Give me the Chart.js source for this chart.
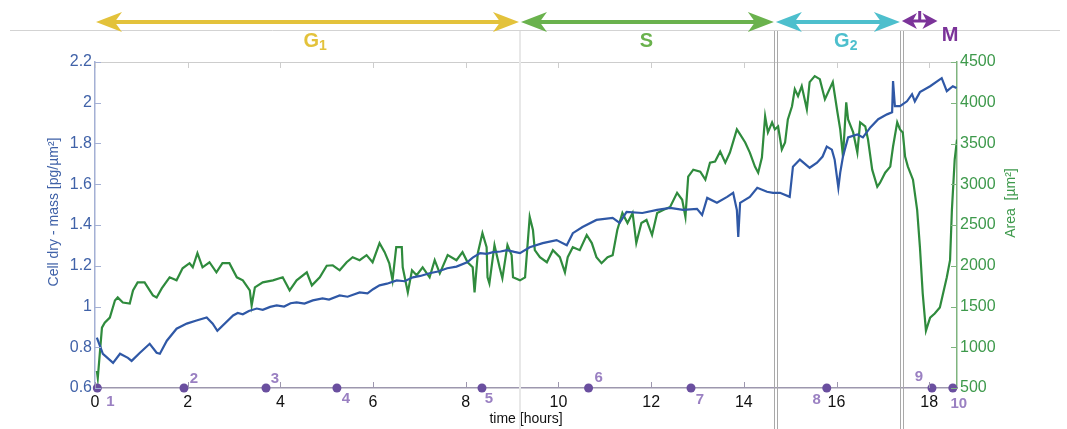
<!DOCTYPE html>
<html>
<head>
<meta charset="utf-8">
<script src="https://cdn.jsdelivr.net/npm/chart.js@4.4.0/dist/chart.umd.min.js"></script>
<style>
  html, body { margin: 0; padding: 0; background: #fff; }
  #wrap { width: 1067px; height: 429px; }
</style>
</head>
<body>
<div id="wrap"><canvas id="chart" width="1067" height="429"></canvas></div>
<script>
/* ── Data ───────────────────────────────────────────────────────── */
const timeTicks = [0, 2, 4, 6, 8, 10, 12, 14, 16, 18];
const massTicks = [0.6, 0.8, 1, 1.2, 1.4, 1.6, 1.8, 2, 2.2];
const areaTicks = [500, 1000, 1500, 2000, 2500, 3000, 3500, 4000, 4500];

/* dry mass, pg/µm² */
const massTime = [
  0.04, 0.17, 0.39, 0.54, 0.71, 0.79, 0.97, 1.18, 1.33, 1.40, 1.55, 1.76, 1.98,
  2.19, 2.41, 2.54, 2.64, 2.98, 3.08, 3.19, 3.32, 3.49, 3.62, 3.78, 3.92, 4.08,
  4.22, 4.35, 4.52, 4.70, 4.91, 5.05, 5.28, 5.45, 5.71, 5.88, 6.00, 6.14, 6.30,
  6.51, 6.68, 6.86, 7.02, 7.22, 7.40, 7.60, 7.80, 8.03, 8.15, 8.31, 8.45, 8.59,
  8.75, 8.89, 9.05, 9.17, 9.38, 9.66, 9.96, 10.18,
  10.31, 10.52, 10.82, 11.17, 11.32, 11.47, 11.81, 12.13, 12.41, 12.69, 12.99,
  13.10, 13.21, 13.42, 13.64, 13.77, 13.85, 13.88, 13.92, 14.13, 14.29, 14.50,
  14.63, 14.78, 14.99, 15.06, 15.21, 15.42, 15.58, 15.70, 15.79, 15.90, 15.96,
  16.04, 16.08, 16.14, 16.25, 16.45, 16.57, 16.73, 16.90, 17.09, 17.20, 17.22,
  17.26, 17.37, 17.52, 17.63, 17.69, 17.80, 18.02, 18.27, 18.38, 18.51, 18.59
];
const mass = [
  0.847, 0.768, 0.723, 0.768, 0.748, 0.733, 0.773, 0.817, 0.773, 0.768, 0.832, 0.891, 0.916,
  0.931, 0.946, 0.916, 0.881, 0.956, 0.968, 0.962, 0.978, 0.990, 0.984, 0.998, 1.005, 1.000,
  1.016, 1.020, 1.014, 1.030, 1.040, 1.034, 1.054, 1.048, 1.069, 1.064, 1.085, 1.104, 1.112,
  1.128, 1.124, 1.143, 1.150, 1.163, 1.172, 1.188, 1.196, 1.217, 1.240, 1.262, 1.258, 1.267,
  1.270, 1.277, 1.268, 1.262, 1.291, 1.311, 1.326, 1.301,
  1.360, 1.390, 1.425, 1.435, 1.410, 1.464, 1.459, 1.474, 1.484, 1.474, 1.479,
  1.449, 1.533, 1.509, 1.538, 1.558, 1.474, 1.341, 1.509, 1.538, 1.583, 1.563,
  1.558, 1.558, 1.538, 1.686, 1.721, 1.681, 1.706, 1.736, 1.785, 1.770, 1.721,
  1.583, 1.657, 1.736, 1.830, 1.844, 1.830, 1.879, 1.919, 1.943, 1.953, 2.106,
  1.983, 1.983, 2.007, 2.042, 2.007, 2.052, 2.081, 2.121, 2.057, 2.081, 2.072
];

/* cell area, µm² */
const areaTime = [
  0.04, 0.06, 0.15, 0.21, 0.32, 0.43, 0.49, 0.60, 0.75, 0.82, 0.92, 1.07, 1.18,
  1.25, 1.33, 1.44, 1.61, 1.76, 1.89, 2.04, 2.11, 2.21, 2.32, 2.47, 2.62, 2.75,
  2.90, 3.06, 3.19, 3.34, 3.38, 3.45, 3.62, 3.84, 4.05, 4.20, 4.35, 4.57, 4.68,
  4.85, 5.00, 5.13, 5.28, 5.43, 5.56, 5.71, 5.86, 5.99, 6.14, 6.25, 6.35, 6.42,
  6.50, 6.62, 6.64, 6.75, 6.84, 6.94, 7.07, 7.22, 7.33, 7.44, 7.61, 7.80, 7.93,
  8.04, 8.15, 8.19, 8.26, 8.36, 8.45, 8.47, 8.51, 8.62, 8.73, 8.79, 8.90, 8.99,
  9.02, 9.17, 9.28, 9.38, 9.45, 9.49, 9.60, 9.75, 9.88, 10.03, 10.14, 10.20,
  10.31, 10.46, 10.61, 10.72, 10.82, 10.93, 11.06, 11.17, 11.27, 11.38, 11.49,
  11.60, 11.68, 11.79, 11.90, 12.02, 12.13, 12.26, 12.41, 12.56, 12.67, 12.74,
  12.80, 12.91, 13.06, 13.17, 13.27, 13.38, 13.49, 13.60, 13.70, 13.85, 13.92,
  14.03, 14.13, 14.24, 14.31, 14.39, 14.46, 14.52, 14.61, 14.67, 14.74, 14.82,
  14.89, 14.95, 15.04, 15.10, 15.17, 15.25, 15.36, 15.42, 15.53, 15.64, 15.75,
  15.85, 15.92, 16.02, 16.08, 16.14, 16.21, 16.25, 16.36, 16.45, 16.51, 16.62,
  16.68, 16.77, 16.88, 16.94, 17.05, 17.16, 17.22, 17.31, 17.37, 17.43, 17.48,
  17.54, 17.65, 17.74, 17.80, 17.86, 17.93, 18.02, 18.12, 18.23, 18.38, 18.45,
  18.49, 18.55, 18.60
];
const area = [
  710, 623, 1241, 1302, 1364, 1574, 1611, 1549, 1537, 1698, 1796, 1796, 1698,
  1636, 1611, 1722, 1858, 1821, 1969, 2031, 1981, 2154, 1981, 2043, 1920, 2031,
  2031, 1858, 1821, 1698, 1512, 1735, 1796, 1821, 1858, 1698, 1821, 1920, 1759,
  1858, 2000, 2006, 1944, 2043, 2105, 2068, 2130, 2043, 2278, 2167, 2031, 1821,
  2228, 2228, 1981, 1673, 1944, 1883, 1981, 1858, 2068, 1907, 2130, 2068, 2167,
  2043, 1981, 1673, 2154, 2401, 2228, 1858, 1784, 2253, 1981, 1846, 2253, 2130,
  1858, 1821, 1858, 2599, 2438, 2191, 2105, 2043, 2191, 2105, 1920, 2105,
  2228, 2191, 2377, 2278, 2105, 2031, 2105, 2130, 2438, 2648, 2525,
  2648, 2278, 2525, 2562, 2377, 2648, 2685, 2722, 2895, 2809, 2599,
  3093, 3179, 3154, 3056, 3265, 3278, 3401, 3265, 3389, 3673, 3611,
  3512, 3389, 3216, 3142, 3327, 3833, 3636, 3759, 3673, 3710, 3426,
  3512, 3796, 3957, 4167, 4080, 4204, 3920, 4253, 4327, 4290, 4043,
  4167, 4253, 3883, 3673, 3340, 4006, 3796, 3636, 3389, 3759, 3710,
  3549, 3179, 2969, 3019, 3142, 3216, 3463, 3759, 3673, 3636, 3340,
  3216, 3056, 2685, 2229, 1661, 1204, 1364, 1414, 1488, 1858, 2068,
  2685, 3302, 3549
];

/* numbered time points on the time axis */
const markerTime  = [0.05, 1.92, 3.69, 5.22, 8.35, 10.65, 12.86, 15.79, 18.06, 18.51];
const markerLabel = ['1', '2', '3', '4', '5', '6', '7', '8', '9', '10'];

/* cell-cycle phases (hours) */
const phaseName  = ['G', 'S', 'G', 'M'];
const phaseSub   = ['1', '', '2', ''];
const phaseStart = [0, 9.17, 14.67, 17.39];
const phaseEnd   = [9.17, 14.67, 17.39, 18.2];

/* ── Styling ────────────────────────────────────────────────────── */
const FONT = '"Liberation Sans", Arial, Helvetica, sans-serif';
Chart.defaults.font.family = FONT;

const C = {
  mass:      '#2f58a6',
  area:      '#2f8b3d',
  massText:  '#4062a8',
  areaText:  '#3d994b',
  massAxis:  '#a4b0d4',
  areaAxis:  '#7fb47f',
  timeAxis:  '#9d97ae',
  frame:     '#cdcdcd',
  marker:    '#6a4f9f',
  markerTxt: '#9a80c2',
  phase:     ['#e3c23b', '#6ab24d', '#4dbfcd', '#7b3399'],
};

/* label placement around each marker dot [dx, dy] */
const markerOffset = [
  [13, 14], [10, -9], [9, -9], [9, 11], [7, 11],
  [10, -10], [9, 12], [-10, 12], [-13, -11], [6, 16]
];
/* where each phase label sits, in hours */
const phaseLabelAt = [4.75, 11.9, 16.2, 18.45];

const pts = (xs, ys) => xs.map((x, i) => ({ x, y: ys[i] }));
const fixedTicks = list => s => { s.ticks = list.map(v => ({ value: v })); };

function drawArrow(ctx, x1, x2, y, color, head, half, shaft) {
  ctx.save();
  ctx.fillStyle = color;
  ctx.strokeStyle = color;
  ctx.lineWidth = shaft;
  ctx.beginPath();
  ctx.moveTo(x1 + head * 0.6, y);
  ctx.lineTo(x2 - head * 0.6, y);
  ctx.stroke();
  [[x1, 1], [x2, -1]].forEach(([tip, dir]) => {
    ctx.beginPath();
    ctx.moveTo(tip, y);
    ctx.lineTo(tip + dir * head, y - half);
    ctx.lineTo(tip + dir * head * 0.72, y);
    ctx.lineTo(tip + dir * head, y + half);
    ctx.closePath();
    ctx.fill();
  });
  ctx.restore();
}

const decorations = {
  id: 'decorations',
  beforeDatasetsDraw(chart) {
    const { ctx, chartArea: a, scales: { x } } = chart;
    ctx.save();
    /* top rule above the phases */
    ctx.strokeStyle = '#d3d3d3';
    ctx.lineWidth = 1;
    ctx.beginPath(); ctx.moveTo(10, 30.5); ctx.lineTo(1060, 30.5); ctx.stroke();
    /* plot top border */
    ctx.strokeStyle = C.frame;
    ctx.beginPath(); ctx.moveTo(a.left, a.top + 0.5); ctx.lineTo(a.right, a.top + 0.5); ctx.stroke();
    /* phase boundaries */
    phaseStart.slice(1).forEach((t, i) => {
      const px = Math.round(x.getPixelForValue(t));
      if (i === 0) {
        ctx.strokeStyle = '#e8e8e8'; ctx.lineWidth = 2;
        ctx.beginPath(); ctx.moveTo(px, 31); ctx.lineTo(px, 429); ctx.stroke();
      } else {
        ctx.strokeStyle = '#a9a9a9'; ctx.lineWidth = 1;
        [-1, 2].forEach(d => {
          ctx.beginPath(); ctx.moveTo(px + d + 0.5, 31); ctx.lineTo(px + d + 0.5, 429); ctx.stroke();
        });
      }
    });
    ctx.restore();
  },
  afterDraw(chart) {
    const { ctx, chartArea: a, scales: { x, y, y2 } } = chart;
    ctx.save();

    /* inward tick marks (MATLAB style) */
    ctx.lineWidth = 1;
    ctx.strokeStyle = C.timeAxis;
    x.ticks.forEach(t => {
      const px = Math.round(x.getPixelForValue(t.value)) + 0.5;
      ctx.beginPath(); ctx.moveTo(px, a.bottom); ctx.lineTo(px, a.bottom - 6); ctx.stroke();
      ctx.strokeStyle = C.frame;
      ctx.beginPath(); ctx.moveTo(px, a.top); ctx.lineTo(px, a.top + 6); ctx.stroke();
      ctx.strokeStyle = C.timeAxis;
    });
    ctx.strokeStyle = C.massAxis;
    y.ticks.forEach(t => {
      const py = Math.round(y.getPixelForValue(t.value)) + 0.5;
      ctx.beginPath(); ctx.moveTo(a.left, py); ctx.lineTo(a.left + 6, py); ctx.stroke();
    });
    ctx.strokeStyle = C.areaAxis;
    y2.ticks.forEach(t => {
      const py = Math.round(y2.getPixelForValue(t.value)) + 0.5;
      ctx.beginPath(); ctx.moveTo(a.right, py); ctx.lineTo(a.right - 6, py); ctx.stroke();
    });

    /* axis titles */
    ctx.textAlign = 'center';
    ctx.textBaseline = 'middle';
    ctx.font = '14px ' + FONT;
    ctx.fillStyle = C.massText;
    ctx.save(); ctx.translate(54, 212); ctx.rotate(-Math.PI / 2);
    ctx.fillText('Cell dry - mass [pg/µm²]', 0, 0); ctx.restore();
    ctx.fillStyle = C.areaText;
    ctx.save(); ctx.translate(1011, 203); ctx.rotate(-Math.PI / 2);
    ctx.fillText('Area  [µm²]', 0, 0); ctx.restore();

    /* marker numbers */
    ctx.font = 'bold 15px ' + FONT;
    ctx.fillStyle = C.markerTxt;
    markerTime.forEach((t, i) => {
      const [dx, dy] = markerOffset[i];
      ctx.fillText(markerLabel[i], x.getPixelForValue(t) + dx, a.bottom + dy);
    });

    /* phase arrows and names */
    phaseName.forEach((name, i) => {
      const x1 = x.getPixelForValue(phaseStart[i]) + 1;
      const x2 = x.getPixelForValue(phaseEnd[i]) - 1;
      const col = C.phase[i];
      if (i < 3) {
        drawArrow(ctx, x1, x2, 22, col, 26, 10, 4);
      } else {
        drawArrow(ctx, x1, x2, 21, col, 15, 8, 3);
        ctx.strokeStyle = col; ctx.lineWidth = 3;
        const mx = (x1 + x2) / 2;
        ctx.beginPath(); ctx.moveTo(mx, 11); ctx.lineTo(mx, 22); ctx.stroke();
      }
      const cx = x.getPixelForValue(phaseLabelAt[i]);
      const cy = i < 3 ? 41 : 35;
      ctx.fillStyle = col;
      ctx.font = 'bold 20px ' + FONT;
      const w = ctx.measureText(name).width;
      ctx.font = 'bold 14px ' + FONT;
      const ws = phaseSub[i] ? ctx.measureText(phaseSub[i]).width : 0;
      const left = cx - (w + ws) / 2;
      ctx.textAlign = 'left';
      ctx.font = 'bold 20px ' + FONT;
      ctx.fillText(name, left, cy);
      if (phaseSub[i]) {
        ctx.font = 'bold 14px ' + FONT;
        ctx.fillText(phaseSub[i], left + w, cy + 5);
      }
      ctx.textAlign = 'center';
    });
    ctx.restore();
  }
};

new Chart(document.getElementById('chart'), {
  type: 'line',
  data: {
    datasets: [
      {
        label: 'Time points',
        type: 'scatter',
        data: markerTime.map(t => ({ x: t, y: massTicks[0] })),
        yAxisID: 'y',
        backgroundColor: C.marker,
        borderWidth: 0,
        pointRadius: 4.5,
        clip: false,
        order: 0,
      },
      {
        label: 'Cell dry mass',
        data: pts(massTime, mass),
        yAxisID: 'y',
        borderColor: C.mass,
        borderWidth: 2.2,
        pointRadius: 0,
        tension: 0,
        order: 1,
      },
      {
        label: 'Area',
        data: pts(areaTime, area),
        yAxisID: 'y2',
        borderColor: C.area,
        borderWidth: 2.2,
        pointRadius: 0,
        tension: 0,
        order: 2,
      },
    ],
  },
  options: {
    responsive: false,
    animation: false,
    layout: { padding: { top: 62, left: 0, right: 0, bottom: 0 } },
    plugins: { legend: { display: false }, tooltip: { enabled: false } },
    scales: {
      x: {
        type: 'linear', position: 'bottom', min: 0, max: 18.6,
        afterBuildTicks: fixedTicks(timeTicks),
        afterFit: s => { s.height = 41; },
        grid: { display: false, drawTicks: false },
        border: { display: true, color: C.timeAxis, width: 1.5 },
        ticks: { color: '#111', font: { size: 16 }, padding: 5, maxRotation: 0, autoSkip: false, callback: v => String(v) },
        title: { display: true, text: 'time [hours]', color: '#111', font: { size: 14 }, padding: { top: 0, bottom: 1 } },
      },
      y: {
        type: 'linear', position: 'left', min: 0.6, max: 2.2,
        afterBuildTicks: fixedTicks(massTicks),
        afterFit: s => { s.width = 95; },
        grid: { display: false, drawTicks: false },
        border: { display: true, color: C.massAxis, width: 1.5 },
        ticks: { color: C.massText, font: { size: 16 }, padding: 3, callback: v => String(v) },
      },
      y2: {
        type: 'linear', position: 'right', min: 500, max: 4500,
        afterBuildTicks: fixedTicks(areaTicks),
        afterFit: s => { s.width = 110; },
        grid: { display: false, drawTicks: false },
        border: { display: true, color: C.areaAxis, width: 1.5 },
        ticks: { color: C.areaText, font: { size: 16 }, padding: 3, callback: v => String(v) },
      },
    },
  },
  plugins: [decorations],
});
</script>
</body>
</html>
